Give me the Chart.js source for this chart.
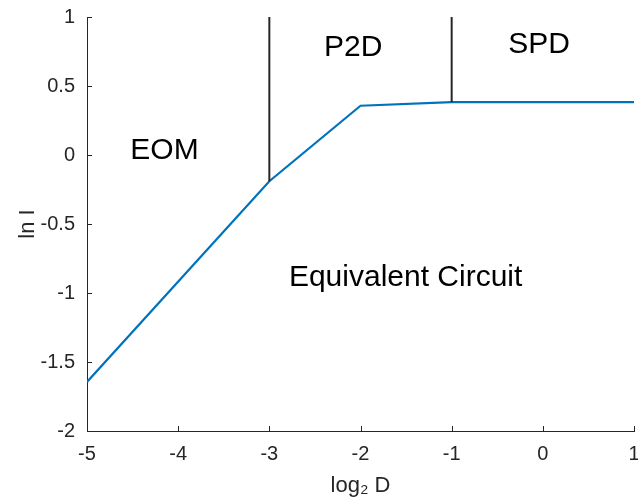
<!DOCTYPE html>
<html>
<head>
<meta charset="utf-8">
<script src="https://cdn.jsdelivr.net/npm/chart.js@4/dist/chart.umd.min.js"></script>
<style>
  html, body { margin: 0; padding: 0; background: #ffffff; }
  #wrap { width: 638px; height: 501px; position: relative; }
</style>
</head>
<body>
<div id="wrap"><canvas id="c"></canvas></div>
<script>
// ---- data ----
const curveX = [-5, -3, -2, -1, 1];
const curveY = [-1.645, -0.19, 0.357, 0.383, 0.383];
const boundary1X = [-3, -3];
const boundary1Y = [-0.19, 1];
const boundary2X = [-1, -1];
const boundary2Y = [0.383, 1];
const xTicks = [-5, -4, -3, -2, -1, 0, 1];
const yTicks = [-2, -1.5, -1, -0.5, 0, 0.5, 1];
const regionLabels = ['EOM', 'P2D', 'SPD', 'Equivalent Circuit'];
const regionLabelX = [-4.15, -2.08, -0.04, -1.505];
const regionLabelY = [0.03, 0.78, 0.80, -0.89];
const xTitle = 'log\u2082 D';
const yTitle = 'ln I';

const toPts = (xs, ys) => xs.map((x, i) => ({ x: x, y: ys[i] }));
const AXIS = '#262626';
const FONT = "'Liberation Sans', Arial, Helvetica, sans-serif";

const inwardTicks = {
  id: 'inwardTicks',
  afterDraw(chart) {
    const ctx = chart.ctx;
    const xs = chart.scales.x, ys = chart.scales.y;
    const L = 5;
    ctx.save();
    ctx.strokeStyle = AXIS;
    ctx.lineWidth = 1;
    ctx.beginPath();
    xTicks.forEach(v => {
      const px = Math.round(xs.getPixelForValue(v)) + 0.5;
      ctx.moveTo(px, ys.bottom);
      ctx.lineTo(px, ys.bottom - L);
    });
    yTicks.forEach(v => {
      const py = Math.round(ys.getPixelForValue(v)) + 0.5;
      ctx.moveTo(xs.left, py);
      ctx.lineTo(xs.left + L, py);
    });
    ctx.stroke();
    ctx.restore();
  }
};

const regionText = {
  id: 'regionText',
  afterDatasetsDraw(chart) {
    const ctx = chart.ctx;
    const xs = chart.scales.x, ys = chart.scales.y;
    ctx.save();
    ctx.fillStyle = '#000000';
    ctx.font = '30px ' + FONT;
    ctx.textAlign = 'center';
    ctx.textBaseline = 'middle';
    regionLabels.forEach((t, i) => {
      ctx.fillText(t, xs.getPixelForValue(regionLabelX[i]), ys.getPixelForValue(regionLabelY[i]));
    });
    ctx.restore();
  }
};

new Chart(document.getElementById('c'), {
  type: 'scatter',
  data: {
    datasets: [
      { data: toPts(boundary1X, boundary1Y), showLine: true, borderColor: '#262626', borderWidth: 2, pointRadius: 0 },
      { data: toPts(boundary2X, boundary2Y), showLine: true, borderColor: '#262626', borderWidth: 2, pointRadius: 0 },
      { data: toPts(curveX, curveY), showLine: true, borderColor: '#0072BD', borderWidth: 2.2, pointRadius: 0 }
    ]
  },
  options: {
    responsive: true,
    maintainAspectRatio: false,
    animation: false,
    layout: { padding: { left: 0, right: 4, top: 17, bottom: 0 } },
    plugins: { legend: { display: false }, tooltip: { enabled: false } },
    scales: {
      x: {
        type: 'linear', min: -5, max: 1,
        afterBuildTicks: s => { s.ticks = xTicks.map(v => ({ value: v })); },
        afterFit: s => { s.height = 70; s.paddingLeft = 0; s.paddingRight = 0; },
        grid: { display: false, drawTicks: false },
        border: { display: true, color: AXIS, width: 1 },
        ticks: { color: AXIS, padding: 11, font: { family: FONT, size: 20 }, maxRotation: 0, autoSkip: false, callback: v => String(v) },
        title: { display: true, text: xTitle, color: AXIS, font: { family: FONT, size: 22 }, padding: { top: 0, bottom: 2 } }
      },
      y: {
        type: 'linear', min: -2, max: 1,
        afterBuildTicks: s => { s.ticks = yTicks.map(v => ({ value: v })); },
        afterFit: s => { s.width = 87; s.paddingTop = 0; s.paddingBottom = 0; },
        grid: { display: false, drawTicks: false },
        border: { display: true, color: AXIS, width: 1 },
        ticks: { color: AXIS, padding: 12, font: { family: FONT, size: 20 }, autoSkip: false, callback: v => String(v) },
        title: { display: true, text: yTitle, color: AXIS, font: { family: FONT, size: 22 }, padding: { top: 15, bottom: 0 } }
      }
    }
  },
  plugins: [inwardTicks, regionText]
});
</script>
</body>
</html>
